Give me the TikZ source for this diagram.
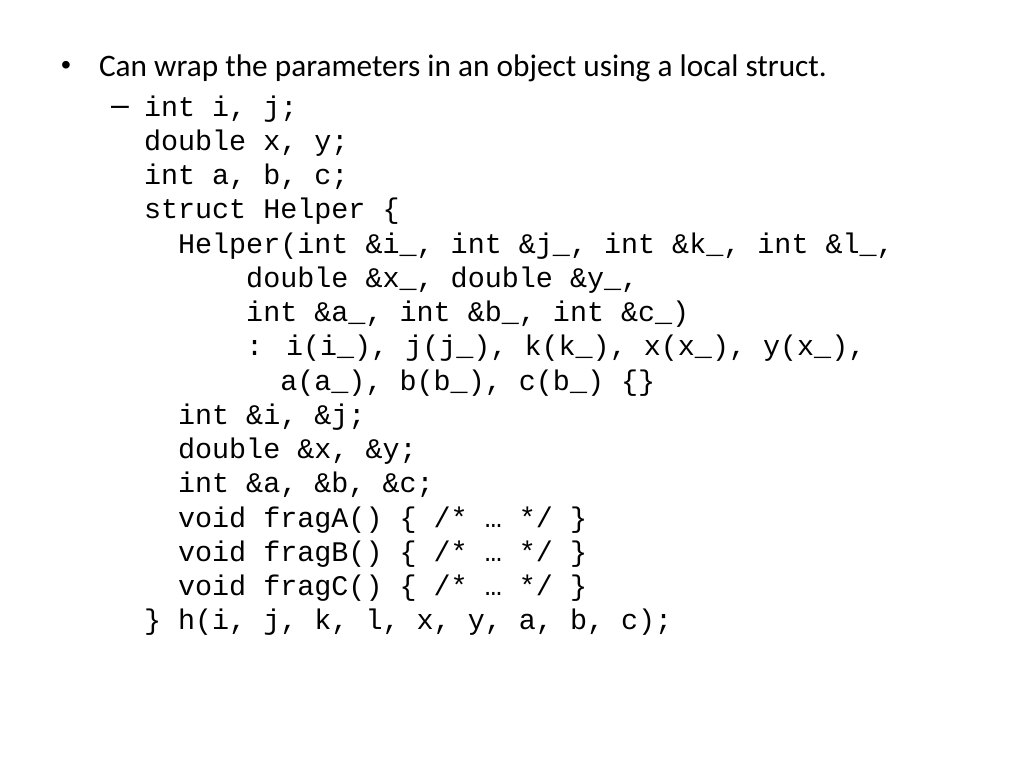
\documentclass[tikz,border=0pt]{standalone}
\usepackage{fontspec}
\setmainfont{Carlito}
\newfontfamily\codefont{Liberation Mono}
\newfontfamily\arialfont{Liberation Sans}
\begin{document}
\begin{tikzpicture}[x=1bp,y=-1bp,
  txt/.style={anchor=base west,inner sep=0pt,outer sep=0pt,font=\fontsize{31.3bp}{38bp}\selectfont},
  mark glyph/.style={anchor=base west,inner sep=0pt,outer sep=0pt,font=\arialfont\fontsize{28bp}{34bp}\selectfont},
  code/.style={anchor=base west,inner sep=0pt,outer sep=0pt,font=\codefont\fontsize{28.4bp}{34bp}\selectfont}]
\useasboundingbox[fill=white] (0,0) rectangle (1024,768);
\def\cw{17.04}
\def\xo{144}
\node[mark glyph] (bul) at (61,75) {•};
\node[txt] (t0) at (99,77) {Can wrap the parameters in an object using a local struct.};
\node[mark glyph,font=\arialfont\fontsize{32bp}{38bp}\selectfont] (dash) at (111,115.5) {–};
\node[code] (l1) at (\xo,116) {int i, j;};
\node[code] (l2) at (\xo,150.25) {double x, y;};
\node[code] (l3) at (\xo,184.5) {int a, b, c;};
\node[code] (l4) at (\xo,218.75) {struct Helper \{};
\node[code] (l5) at (\xo+2*\cw,253) {Helper(int \&i\_, int \&j\_, int \&k\_, int \&l\_,};
\node[code] (l6) at (\xo+6*\cw,287.25) {double \&x\_, double \&y\_,};
\node[code] (l7) at (\xo+6*\cw,321.5) {int \&a\_, int \&b\_, int \&c\_)};
\node[code] (l8) at (\xo+6*\cw,355.75) {: i(i\_), j(j\_), k(k\_), x(x\_), y(x\_),};
\node[code] (l9) at (\xo+8*\cw,390) {a(a\_), b(b\_), c(b\_) \{\}};
\node[code] (l10) at (\xo+2*\cw,424.25) {int \&i, \&j;};
\node[code] (l11) at (\xo+2*\cw,458.5) {double \&x, \&y;};
\node[code] (l12) at (\xo+2*\cw,492.75) {int \&a, \&b, \&c;};
\node[code] (l13) at (\xo+2*\cw,527) {void fragA() \{ /* … */ \}};
\node[code] (l14) at (\xo+2*\cw,561.25) {void fragB() \{ /* … */ \}};
\node[code] (l15) at (\xo+2*\cw,595.5) {void fragC() \{ /* … */ \}};
\node[code] (l16) at (\xo,629.75) {\} h(i, j, k, l, x, y, a, b, c);};
\end{tikzpicture}
\end{document}
